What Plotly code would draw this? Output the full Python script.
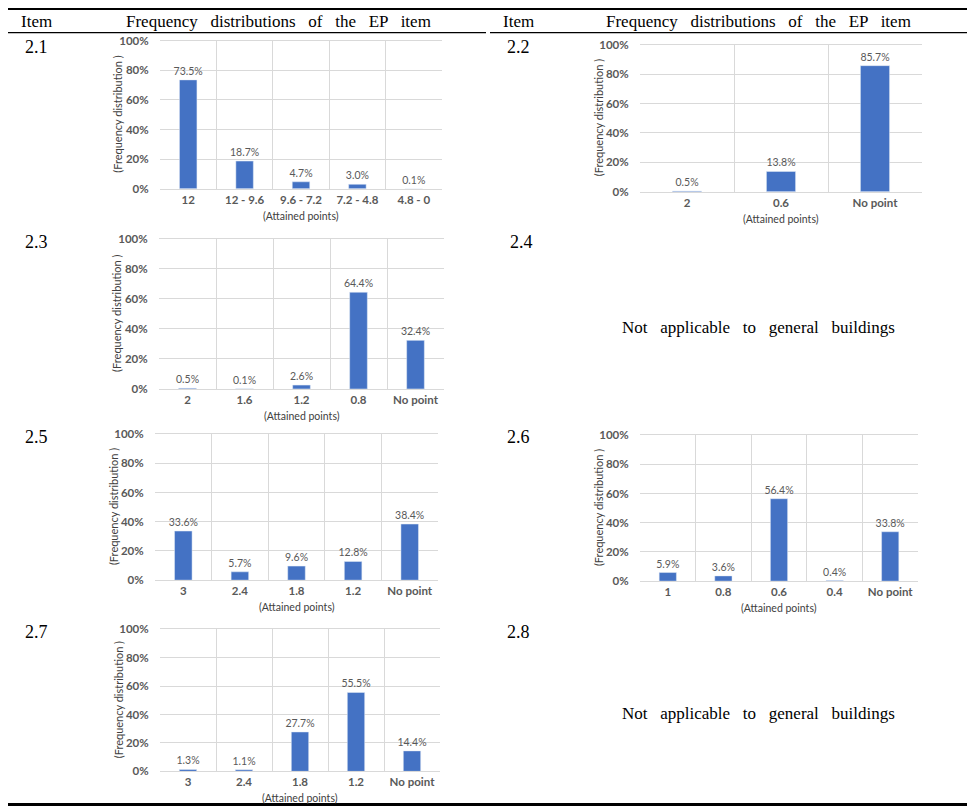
import plotly.graph_objects as go

# ── Data ──────────────────────────────────────────────────────────────────────
cats_21 = ["12", "12 - 9.6", "9.6 - 7.2", "7.2 - 4.8", "4.8 - 0"]
vals_21 = [73.5, 18.7, 4.7, 3.0, 0.1]

cats_22 = ["2", "0.6", "No point"]
vals_22 = [0.5, 13.8, 85.7]

cats_23 = ["2", "1.6", "1.2", "0.8", "No point"]
vals_23 = [0.5, 0.1, 2.6, 64.4, 32.4]

cats_25 = ["3", "2.4", "1.8", "1.2", "No point"]
vals_25 = [33.6, 5.7, 9.6, 12.8, 38.4]

cats_26 = ["1", "0.8", "0.6", "0.4", "No point"]
vals_26 = [5.9, 3.6, 56.4, 0.4, 33.8]

cats_27 = ["3", "2.4", "1.8", "1.2", "No point"]
vals_27 = [1.3, 1.1, 27.7, 55.5, 14.4]

item_labels = ["2.1", "2.2", "2.3", "2.4", "2.5", "2.6", "2.7", "2.8"]
head_item = "Item"
head_text = "Frequency distributions of the EP item"
na_text = "Not applicable to general buildings"

# ── Page geometry (pixels of the target picture) ─────────────────────────────
W, H = 975, 811
BAR = "#4472C4"
GRID = "#d9d9d9"
GREY = "#595959"
SERIF = "Liberation Serif"
SANS = "Lato"

# the page lands a little offset / squeezed in the snapshot, so map target
# pixels back to figure pixels before turning them into paper fractions
X_OFF, Y_OFF, Y_SCALE = 8.0, 14.4, 0.983


def px(x):
    return (x - X_OFF) / W


def py(y):
    return 1 - ((y - Y_OFF) / Y_SCALE) / H


def spaced(s, gap):
    return s.replace(" ", gap)


def note(x, y, text, font, **kw):
    return dict(x=px(x), y=py(y), xref="paper", yref="paper", text=text,
                showarrow=False, xanchor="center", yanchor="middle",
                font=font, **kw)


fig = go.Figure()

# (categories, values, x0, x1, ytop, ybottom) in target pixels
charts = [
    (cats_21, vals_21, 160, 442, 40, 188),
    (cats_22, vals_22, 640, 922, 44, 191),
    (cats_23, vals_23, 159, 444, 238, 388),
    (cats_25, vals_25, 155, 438, 433, 579),
    (cats_26, vals_26, 640, 918, 434, 580),
    (cats_27, vals_27, 160, 440, 628, 770),
]

small = dict(family=SANS, size=10.5, color="#404040")
annotations = []
for i, (cats, vals, x0, x1, y0, y1) in enumerate(charts, start=1):
    sfx = "" if i == 1 else str(i)
    fig.add_trace(go.Bar(
        x=cats, y=vals,
        xaxis="x" + sfx, yaxis="y" + sfx,
        marker=dict(color=BAR),
        width=0.31,
        text=[f"{v:.1f}%" for v in vals],
        textposition="outside",
        constraintext="none",
        textfont=dict(family=SANS, size=10.5, color=GREY),
        cliponaxis=False,
        showlegend=False,
    ))
    fig.layout["xaxis" + sfx] = dict(
        domain=[px(x0), px(x1)], anchor="y" + sfx,
        type="category", tickson="boundaries",
        showgrid=True, gridcolor=GRID, gridwidth=1,
        showline=True, linecolor=GRID, mirror=True,
        ticks="outside", ticklen=5, tickcolor="rgba(0,0,0,0)",
        fixedrange=True,
        tickfont=dict(family=SANS, size=11.5, color=GREY, weight="bold"),
    )
    fig.layout["yaxis" + sfx] = dict(
        domain=[py(y1), py(y0)], anchor="x" + sfx,
        range=[0, 100], dtick=20, ticksuffix="%",
        showgrid=True, gridcolor=GRID, gridwidth=1,
        zeroline=False, ticks="outside", ticklen=8,
        tickcolor="rgba(0,0,0,0)", fixedrange=True,
        tickfont=dict(family=SANS, size=11.5, color=GREY, weight="bold"),
    )
    annotations.append(note((x0 + x1) / 2, y1 + 27, "(Attained points)", small))
    annotations.append(note(x0 - 42, (y0 + y1) / 2, "(Frequency distribution )",
                            dict(family=SANS, size=11, color="#404040"),
                            textangle=-90))

# ── Table text ────────────────────────────────────────────────────────────────
head = dict(family=SERIF, size=17, color="black")
for xc, xt in [(36, 278), (519, 758)]:
    annotations.append(note(xc, 21, head_item, head))
    annotations.append(note(xt, 21, spaced(head_text, " &nbsp;&nbsp;"), head))

item_pos = [(36, 46), (518, 46), (36, 241), (521, 241),
            (36, 436), (518, 436), (36, 631), (519, 631)]
num = dict(family=SERIF, size=18, color="black")
for lab, (x, y) in zip(item_labels, item_pos):
    annotations.append(note(x, y, lab, num))

for y in [327, 712]:
    annotations.append(note(758, y, spaced(na_text, " &nbsp;&nbsp;"),
                            dict(family=SERIF, size=17, color="black")))

# rules of the table
rules = [  # (x0, x1, y, width)
    (3, 975, 8, 3),
    (3, 486, 32, 1.2),
    (490, 975, 32, 1.2),
    (3, 975, 803, 3),
]
shapes = [dict(type="line", xref="paper", yref="paper",
               x0=px(a), x1=px(b), y0=py(y), y1=py(y),
               line=dict(color="black", width=w)) for a, b, y, w in rules]

fig.update_layout(
    width=W, height=H,
    margin=dict(l=0, r=0, t=0, b=0),
    paper_bgcolor="white", plot_bgcolor="white",
    annotations=annotations,
    shapes=shapes,
)

fig.write_html("out.html")
